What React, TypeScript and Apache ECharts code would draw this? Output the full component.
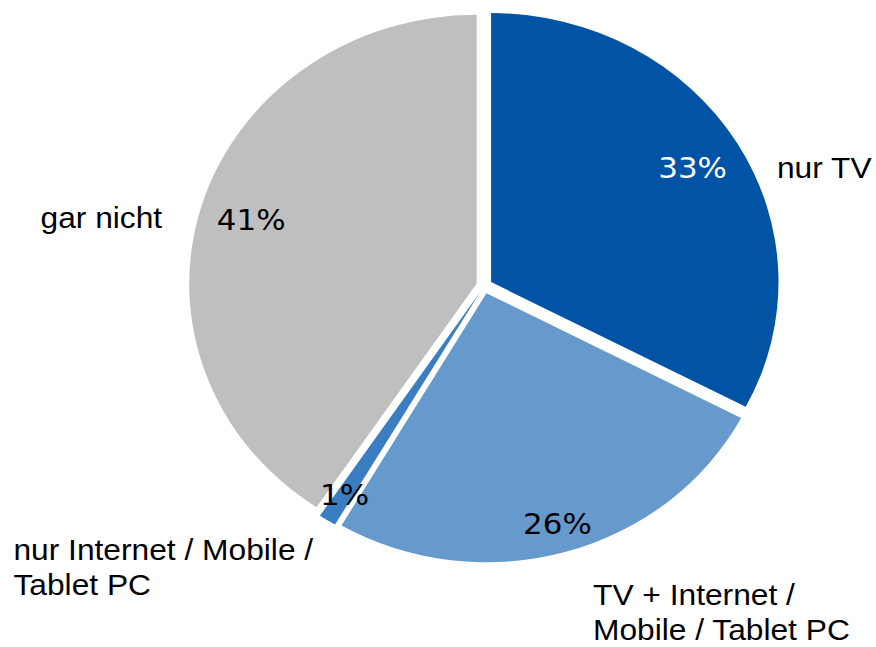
import React, { useEffect, useRef } from 'react';
import * as echarts from 'echarts';

// ---- data ----
const categories = [
  'nur TV',
  'TV + Internet /\nMobile / Tablet PC',
  'nur Internet / Mobile /\nTablet PC',
  'gar nicht',
];
const shares = [33, 26, 1, 41];
const percentLabels = ['33%', '26%', '1%', '41%'];

// ---- styles / layout ----
const sliceColors = ['#0053A5', '#6699CC', '#3B7DC1', '#BFBFBF'];
const percentColors = ['#FFFFFF', '#000000', '#000000', '#000000'];

const CHART_W = 820;
const CHART_H = 647;
const STRETCH = 876 / CHART_W;
const CX = 453.3;
const CY = 286;
const R = 269;
const EXPLODE = 7.5;
const pctRadius = [228, 248, 246, 228];
const nameAnchors = [
  { x: 727.3, y: 168, align: 'left', lineHeight: 35 },
  { x: 555.1, y: 612.5, align: 'left', lineHeight: 35 },
  { x: 12.6, y: 567, align: 'left', lineHeight: 35 },
  { x: 151.8, y: 217.5, align: 'right', lineHeight: 35 },
];

export default function App() {
  const ref = useRef<HTMLDivElement>(null);

  useEffect(() => {
    if (!ref.current) return;
    const chart = echarts.init(ref.current, null, { renderer: 'svg' });

    const total = shares.reduce((a, b) => a + b, 0);
    const midAngles: number[] = [];
    let cum = 0;
    shares.forEach((v) => {
      midAngles.push(((cum + v / 2) / total) * Math.PI * 2);
      cum += v;
    });

    const transparent = 'rgba(0,0,0,0)';

    const option: any = {
      animation: false,
      backgroundColor: '#FFFFFF',
      series: [
        {
          type: 'pie',
          name: 'main',
          center: [CX, CY],
          radius: [0, R],
          startAngle: 90,
          clockwise: true,
          selectedMode: 'multiple',
          selectedOffset: EXPLODE,
          avoidLabelOverlap: false,
          emphasis: { disabled: true },
          select: { itemStyle: { borderWidth: 0 } },
          itemStyle: { borderWidth: 0 },
          label: { show: false },
          labelLine: { show: false },
          data: shares.map((v, i) => ({
            value: v,
            name: categories[i],
            selected: true,
            itemStyle: { color: sliceColors[i] },
          })),
        },
        {
          type: 'pie',
          name: 'percent',
          silent: true,
          center: [CX, CY],
          radius: [0, R],
          startAngle: 90,
          clockwise: true,
          avoidLabelOverlap: false,
          emphasis: { disabled: true },
          itemStyle: { color: transparent, borderWidth: 0 },
          labelLine: { show: false },
          label: {
            show: true,
            position: 'inside',
            fontFamily: '"DejaVu Sans", Verdana, sans-serif',
            fontSize: 29,
            formatter: (p: any) => percentLabels[p.dataIndex],
          },
          labelLayout: (p: any) => {
            const a = midAngles[p.dataIndex];
            const r = pctRadius[p.dataIndex];
            return {
              x: CX + r * Math.sin(a),
              y: CY - r * Math.cos(a),
              align: 'center',
              verticalAlign: 'middle',
            };
          },
          data: shares.map((v, i) => ({
            value: v,
            name: categories[i],
            label: { color: percentColors[i] },
          })),
        },
        {
          type: 'pie',
          name: 'names',
          silent: true,
          center: [CX, CY],
          radius: [0, R],
          startAngle: 90,
          clockwise: true,
          avoidLabelOverlap: false,
          emphasis: { disabled: true },
          itemStyle: { color: transparent, borderWidth: 0 },
          labelLine: { show: false },
          label: {
            show: true,
            position: 'inside',
            color: '#000000',
            fontFamily: '"Liberation Sans", Arial, sans-serif',
            fontSize: 29.7,
            formatter: '{b}',
          },
          labelLayout: (p: any) => {
            const a = nameAnchors[p.dataIndex];
            return {
              x: a.x,
              y: a.y,
              align: a.align,
              verticalAlign: 'middle',
            };
          },
          data: shares.map((v, i) => ({
            value: v,
            name: categories[i],
            label: {
              lineHeight: nameAnchors[i].lineHeight,
              align: nameAnchors[i].align,
            },
          })),
        },
      ],
    };

    chart.setOption(option);
    return () => chart.dispose();
  }, []);

  return (
    <div
      ref={ref}
      style={{
        position: 'absolute',
        left: 0,
        top: 0,
        width: CHART_W,
        height: CHART_H,
        transform: `scaleX(${STRETCH})`,
        transformOrigin: '0 0',
      }}
    />
  );
}
